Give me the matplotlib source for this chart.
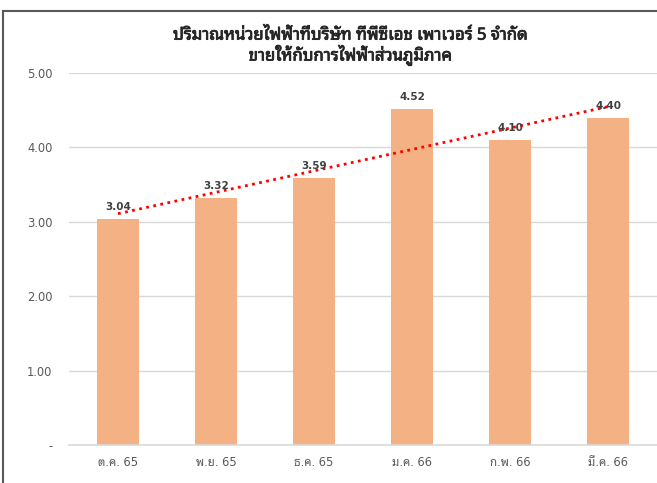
import matplotlib
matplotlib.use("Agg")
import matplotlib.pyplot as plt
import numpy as np
from matplotlib import font_manager as fm
from matplotlib.ft2font import FT2Font
from matplotlib.lines import Line2D
import matplotlib.patheffects as pe

categories = ["ต.ค. 65", "พ.ย. 65", "ธ.ค. 65", "ม.ค. 66", "ก.พ. 66", "มี.ค. 66"]
values = [3.04, 3.32, 3.59, 4.52, 4.10, 4.40]
yticks = [0, 1, 2, 3, 4, 5]
ytick_labels = ["-", "1.00", "2.00", "3.00", "4.00", "5.00"]
title = "ปริมาณหน่วยไฟฟ้าที่บริษัท ทีพีซีเอช เพาเวอร์ 5 จำกัด\nขายให้กับการไฟฟ้าส่วนภูมิภาค"

# find a font that has Thai glyphs
thai_family = None
seen = set()
for f in fm.fontManager.ttflist:
    if f.fname in seen:
        continue
    seen.add(f.fname)
    try:
        cm = FT2Font(f.fname).get_charmap()
    except Exception:
        continue
    if 0x0E1B in cm and 0x0E35 in cm:
        thai_family = f.name
        if "Tahoma" in f.name or "Noto Sans Thai" in f.name:
            break
thai = [thai_family] if thai_family else []
plt.rcParams["font.family"] = ["DejaVu Sans"] + thai

fig = plt.figure(figsize=(6.57, 4.83), dpi=100)
ax = fig.add_axes([69/657, 38/483, 588/657, 372/483])

x = np.arange(len(categories))
ax.bar(x, values, width=0.43, color="#F4B183", zorder=2)

# linear trendline
coef = np.polyfit(x, values, 1)
ax.plot(x[[0, -1]], np.polyval(coef, x[[0, -1]]), color="#FF0000",
        linestyle=(0, (1, 1.6)), linewidth=2, zorder=3)

for xi, v in zip(x, values):
    ax.annotate(f"{v:.2f}", (xi, v), xytext=(0, 5), textcoords="offset points",
                ha="center", va="bottom", fontsize=7.5, fontweight="bold",
                family="DejaVu Sans", color="#404040", zorder=4)

ax.set_xlim(-0.5, len(categories) - 0.5)
ax.set_ylim(0, 5)
ax.set_yticks(yticks)
ax.set_yticklabels(ytick_labels)
ax.set_xticks(x)
ax.set_xticklabels(categories)
ax.tick_params(axis="both", length=0, labelsize=8.3, labelcolor="#595959")
ax.tick_params(axis="y", pad=12)
ax.tick_params(axis="x", pad=8)
ax.grid(axis="y", color="#D9D9D9", linewidth=1, zorder=0)
for s in ["top", "right", "left"]:
    ax.spines[s].set_visible(False)
ax.spines["bottom"].set_color("#D9D9D9")
ax.spines["bottom"].set_linewidth(1.2)

fig.text(350/657, 1 - 47/483, title, ha="center", va="center",
         fontsize=12, color="#262626", linespacing=1.05,
         family=thai + ["DejaVu Sans"],
         path_effects=[pe.withStroke(linewidth=0.6, foreground="#262626")])

# frame lines (top and left)
fig.add_artist(Line2D([3/657, 1], [1 - 11/483, 1 - 11/483], color="#595959",
                      linewidth=1.5, transform=fig.transFigure))
fig.add_artist(Line2D([3/657, 3/657], [0, 1 - 11/483], color="#595959",
                      linewidth=1.5, transform=fig.transFigure))

fig.savefig("out.png", dpi=100)
